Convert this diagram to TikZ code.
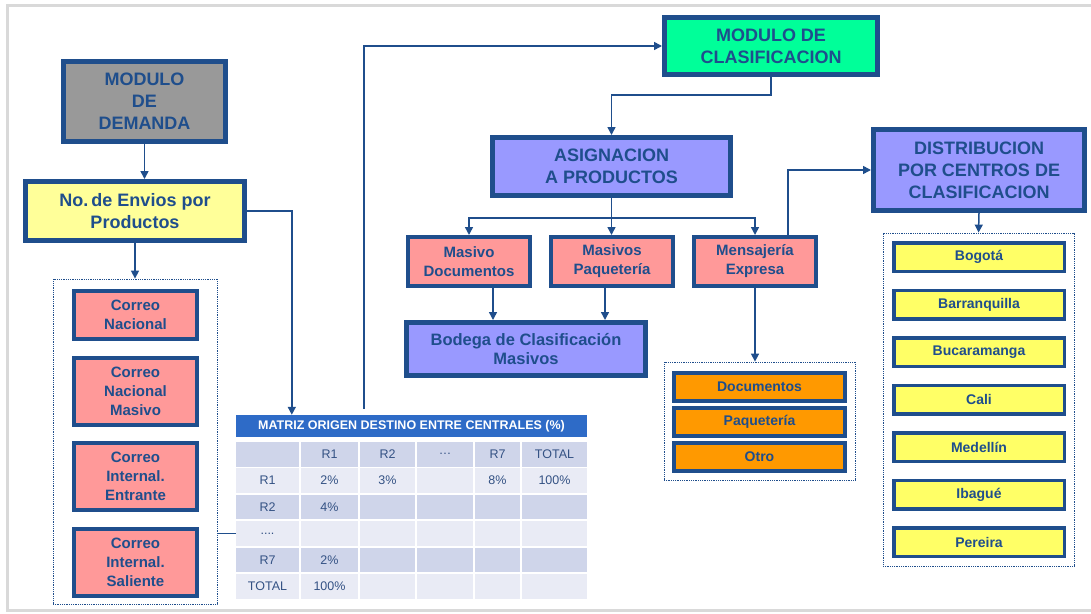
\documentclass[tikz,border=0pt]{standalone}
\usepackage{fontspec}
\setmainfont{Liberation Sans}
\usetikzlibrary{arrows.meta,calc}

\definecolor{azul}{RGB}{31,78,140}
\definecolor{azulTab}{RGB}{46,107,199}
\definecolor{filaOsc}{RGB}{207,213,234}
\definecolor{filaCla}{RGB}{233,235,245}
\definecolor{txtTab}{RGB}{52,82,132}
\definecolor{gris}{RGB}{153,153,153}
\definecolor{verde}{RGB}{0,255,153}
\definecolor{amarCla}{RGB}{255,255,153}
\definecolor{amar}{RGB}{255,255,102}
\definecolor{rosa}{RGB}{255,153,153}
\definecolor{lila}{RGB}{153,153,255}
\definecolor{naranja}{RGB}{255,153,0}
\definecolor{marco}{RGB}{217,217,217}

\tikzset{
  modulo/.style={draw=azul, line width=5pt, text=azul, align=center, inner sep=0pt,
    font=\bfseries\fontsize{18}{22}\selectfont},
  producto/.style={draw=azul, line width=4pt, fill=rosa, text=azul, align=center, inner sep=0pt,
    font=\bfseries\fontsize{15}{19}\selectfont},
  ciudad/.style={draw=azul, line width=3.5pt, fill=amar, text=azul, inner sep=0pt,
    minimum width=170.5pt, minimum height=28.5pt, font=\bfseries\fontsize{14}{17}\selectfont},
  tipo/.style={draw=azul, line width=4pt, fill=naranja, text=azul, inner sep=0pt,
    minimum width=171pt, minimum height=28pt, font=\bfseries\fontsize{14}{17}\selectfont},
  grupo/.style={draw=azul, densely dotted, line width=0.8pt, inner sep=0pt},
  flecha/.style={draw=azul, line width=1.5pt, -{Triangle[length=8pt,width=8pt]}},
  linea/.style={draw=azul, line width=1.5pt},
  celda/.style={inner sep=0pt, minimum height=24.5pt, text=txtTab, font=\fontsize{12.5}{15}\selectfont}
}

\begin{document}
\begin{tikzpicture}[x=1pt, y=-1pt]
    \useasboundingbox (0,0) rectangle (1091,613);
    \clip (0,0) rectangle (1091,613);
    % marco
    \draw[marco, line width=3pt] (7,5) rectangle (1110,610);

    % modulo de demanda
    \node[modulo, fill=gris, minimum width=162pt, minimum height=80pt] (dem) at (144.5,101.5) {MODULO\\DE\\DEMANDA};
    \node[modulo, fill=amarCla, minimum width=219pt, minimum height=59pt] (envios) at (135,211) {No.\,de Envios por\\Productos};
    \node[grupo, minimum width=164pt, minimum height=325pt] (contIzq) at (135,441.5) {};
    \node[producto, minimum width=123pt, minimum height=48pt] (corNac) at (135.5,315) {Correo\\Nacional};
    \node[producto, minimum width=123pt, minimum height=67pt] (corMas) at (135.5,391.5) {Correo\\Nacional\\Masivo};
    \node[producto, minimum width=123pt, minimum height=67pt] (corEnt) at (135.5,476.5) {Correo\\Internal.\\Entrante};
    \node[producto, minimum width=123pt, minimum height=67pt] (corSal) at (135.5,562.5) {Correo\\Internal.\\Saliente};

    % matriz origen destino
    \node[fill=azulTab, text=white, inner sep=0pt, minimum width=351pt, minimum height=22pt,
      font=\bfseries\fontsize{12.5}{15}\selectfont] (tabTit) at (411.5,426) {MATRIZ ORIGEN DESTINO ENTRE CENTRALES (\%)};
    \foreach \ca/\cb/\cc/\cd/\ce/\cf [count=\r] in {{}/R1/R2/\dots/R7/TOTAL, R1/2\%/3\%/{}/8\%/100\%,
        R2/4\%/{}/{}/{}/{}, {....}/{}/{}/{}/{}/{}, R7/2\%/{}/{}/{}/{}, TOTAL/100\%/{}/{}/{}/{}}
    {
      \pgfmathsetmacro\yy{454.25+26.4*(\r-1)}
      \ifodd\r \def\fondo{filaOsc}\else \def\fondo{filaCla}\fi
      \foreach \xx/\ww/\txt [count=\k] in {267.5/63/\ca, 329.5/57/\cb, 387.5/55/\cc, 445/56/\cd, 497.5/45/\ce, 554.5/65/\cf}
        \node[celda, fill=\fondo, minimum width=\ww pt] (f\r-\k) at (\xx,\yy) {\txt};
    }

    % modulo de clasificacion
    \node[modulo, fill=verde, minimum width=213pt, minimum height=57pt] (clasif) at (771,46) {MODULO DE\\CLASIFICACION};
    \node[modulo, fill=lila, minimum width=238pt, minimum height=58pt] (asig) at (611.5,166.5) {ASIGNACION\\A PRODUCTOS};
    \node[producto, minimum width=122pt, minimum height=49pt] (masDoc) at (469,261.5) {Masivo\\Documentos};
    \node[producto, minimum width=122pt, minimum height=49pt] (masPaq) at (612,261.5) {Masivos\\Paquetería};
    \node[producto, minimum width=122pt, minimum height=49pt] (mensaj) at (755,261.5) {Mensajería\\Expresa};
    \node[modulo, fill=lila, minimum width=239pt, minimum height=53pt,
      font=\bfseries\fontsize{16.5}{19}\selectfont] (bodega) at (526,349) {Bodega de Clasificación\\Masivos};
    \node[grupo, minimum width=191pt, minimum height=118pt] (contNar) at (759.5,421) {};
    \node[tipo] (docu) at (759.5,387) {Documentos};
    \node[tipo] (paqu) at (759.5,422) {Paquetería};
    \node[tipo] (otro) at (759.5,457) {Otro};

    % distribucion
    \node[modulo, fill=lila, minimum width=211pt, minimum height=81pt] (distrib) at (979,170) {DISTRIBUCION\\POR CENTROS DE\\CLASIFICACION};
    \node[grupo, minimum width=191pt, minimum height=333pt] (contCiu) at (978.5,399.5) {};
    \foreach \ciu [count=\i] in {Bogotá, Barranquilla, Bucaramanga, Cali, Medellín, Ibagué, Pereira}
      \node[ciudad] (ciu\i) at (979,{257+47.5*(\i-1)}) {\ciu};

    % conectores
    \coordinate (entTab) at ($(tabTit.north west)+(56,0)$);
    \coordinate (salTab) at ($(tabTit.north west)+(128,-6)$);
    \coordinate (rama) at ($(asig.south)+(0,20)$);
    \coordinate (m2) at ($(mensaj.north)+(33,0)$);
    \coordinate (b1) at ($(masDoc.south)+(24,0)$);
    \coordinate (b2) at ($(masPaq.south)+(-7,0)$);
    \draw[flecha] (dem.south) -- (dem.south |- envios.north);
    \draw[flecha] (envios.south) -- (contIzq.north);
    \draw[flecha] (envios.east) -| (entTab);
    \draw[linea] (contIzq.east |- f4-1.west) -- (f4-1.west);
    \draw[flecha] (salTab) |- (clasif.west);
    \draw[flecha] (clasif.south) -- ++(0,18) -| (asig.north);
    \draw[flecha] (asig.south) -- (asig.south |- masPaq.north);
    \draw[flecha] (rama) -| (masDoc.north);
    \draw[flecha] (rama) -| (mensaj.north);
    \draw[flecha] (b1) -- (b1 |- bodega.north);
    \draw[flecha] (b2) -- (b2 |- bodega.north);
    \draw[flecha] (mensaj.south) -- (mensaj.south |- contNar.north);
    \draw[flecha] (m2) |- (distrib.west);
    \draw[flecha] (distrib.south) -- (contCiu.north);
\end{tikzpicture}
\end{document}
